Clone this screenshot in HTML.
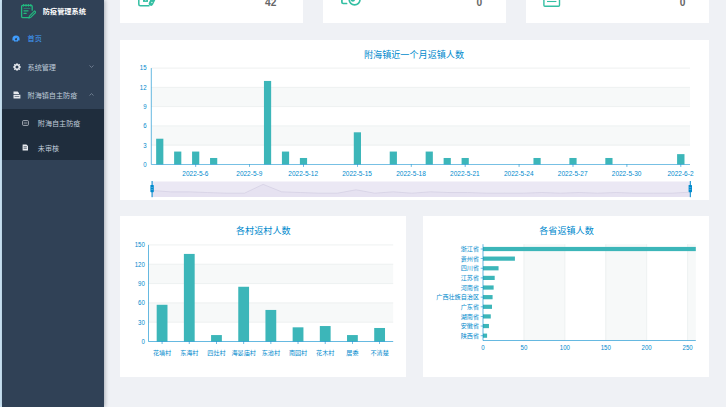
<!DOCTYPE html>
<html lang="zh-CN"><head><meta charset="utf-8"><title>防疫管理系统</title>
<style>
html,body{margin:0;padding:0;}
body{width:726px;height:407px;overflow:hidden;position:relative;background:#eff1f5;font-family:'Liberation Sans','Noto Sans CJK SC',sans-serif;}
.strip{position:absolute;left:0;top:0;width:2px;height:407px;background:#cde7f7;}
.side{position:absolute;left:2px;top:0;width:102px;height:407px;background:#304156;box-shadow:1px 0 4px rgba(0,21,41,.30);}
.logo{position:absolute;left:17px;top:3px;width:17px;height:16px;}
.ttl{position:absolute;left:40.8px;top:6.2px;font-size:7.2px;line-height:12px;font-weight:bold;color:#fff;white-space:nowrap;letter-spacing:0px;}
.mi{position:absolute;left:0;width:102px;height:28.4px;}
.mi .tx{position:absolute;left:25.6px;top:1.9px;font-size:7.1px;line-height:28.4px;color:#bfcbd9;white-space:nowrap;}
.mi svg{position:absolute;}
.sub{position:absolute;left:0;top:109px;width:102px;height:50.8px;background:#1f2d3d;}
.si{position:absolute;left:0;width:102px;height:25px;}
.si .tx{position:absolute;left:35.8px;top:2.85px;font-size:7.1px;line-height:25px;color:#bfcbd9;white-space:nowrap;}
.card{position:absolute;background:#fff;}
.num{position:absolute;font-weight:bold;font-size:10.2px;line-height:12px;color:#666;}
svg text{font-family:'Liberation Sans','Noto Sans CJK SC',sans-serif;}
.al{font-size:6.1px;fill:#008acd;}
.n{font-size:7px;}
.r{text-anchor:end;}
.m{text-anchor:middle;}
.tt{font-size:9.1px;fill:#008acd;text-anchor:middle;}
</style></head>
<body>
<div class="strip"></div>
<div class="side">
  <svg class="logo" viewBox="0 0 17 16" width="17" height="16">
    <g fill="none" stroke="#22b97f" stroke-width="1.3" stroke-linecap="round" stroke-linejoin="round">
      <path d="M10.3,14.6 H3.6 Q2.6,14.6 2.6,13.6 V3.4 Q2.6,2.4 3.6,2.4 H12.2 Q13.2,2.4 13.2,3.4 V7.2"/>
      <path d="M4.6,1.4 V3.2 M7,1.4 V3.2 M9.4,1.4 V3.2 M11.8,1.4 V3.2" stroke-width="1"/>
      <path d="M5,5.4 H11" stroke-width="1" opacity="0.55"/>
      <path d="M5,7.8 H9" />
      <path d="M5,10.3 H7.2" />
      <path d="M15.6,7.9 L10.4,13.1 L9.8,15 L11.7,14.4 L16.9,9.2 Z" stroke-width="1.1"/>
    </g>
  </svg>
  <div class="ttl">防疫管理系统</div>
  <div class="mi" style="top:23.6px">
    <svg style="left:10.4px;top:11.1px" width="8" height="7" viewBox="0 0 8 7">
      <g fill="#409eff">
        <path d="M4,0.6 A3.6,3.6 0 0 0 0.4,4.2 V5.4 H2 V6.6 H6 V5.4 H7.6 V4.2 A3.6,3.6 0 0 0 4,0.6 Z"/>
      </g>
      <g fill="#304156"><circle cx="4" cy="4.3" r="1.1"/><path d="M3.6,4.2 L5.6,1.8 L4.5,4.6 Z"/></g>
    </svg>
    <div class="tx" style="color:#409eff;top:1.4px">首页</div>
  </div>
  <div class="mi" style="top:52px">
    <svg style="left:10.6px;top:10.6px" width="8" height="8" viewBox="0 0 8 8">
      <path fill="#e6e9ee" fill-rule="evenodd" d="M3,0.4 H5 L5.3,1.5 L6.4,0.9 L7.1,1.6 L6.5,2.7 L7.6,3 V5 L6.5,5.3 L7.1,6.4 L6.4,7.1 L5.3,6.5 L5,7.6 H3 L2.7,6.5 L1.6,7.1 L0.9,6.4 L1.5,5.3 L0.4,5 V3 L1.5,2.7 L0.9,1.6 L1.6,0.9 L2.7,1.5 Z M4,2.5 A1.5,1.5 0 1 0 4,5.5 A1.5,1.5 0 1 0 4,2.5 Z"/>
    </svg>
    <div class="tx">系统管理</div>
    <svg style="left:86.6px;top:12.8px" width="5" height="3" viewBox="0 0 5 3"><path d="M0.5,0.5 L2.5,2.4 L4.5,0.5" fill="none" stroke="#8795a8" stroke-width="0.7"/></svg>
  </div>
  <div class="mi" style="top:80.4px">
    <svg style="left:10.6px;top:10.8px" width="8" height="8" viewBox="0 0 8 8">
      <path fill="#e6e9ee" d="M0.5,0.5 H4.6 L6,1.9 V3 H0.5 Z M0.5,3.8 H7.4 V7.4 H0.5 Z"/>
      <path fill="#304156" d="M1.6,5 H6.3 V5.6 H1.6 Z"/>
    </svg>
    <div class="tx">附海镇自主防疫</div>
    <svg style="left:86.6px;top:12.6px" width="5" height="3" viewBox="0 0 5 3"><path d="M0.5,2.5 L2.5,0.6 L4.5,2.5" fill="none" stroke="#8795a8" stroke-width="0.7"/></svg>
  </div>
  <div class="sub">
    <div class="si" style="top:0">
      <svg style="position:absolute;left:20.4px;top:10.5px" width="7" height="6" viewBox="0 0 7 6">
        <rect x="0.6" y="0.6" width="5.8" height="4.8" rx="0.8" fill="none" stroke="#c6ccd4" stroke-width="0.8"/>
        <path d="M1.8,3 H5.2" stroke="#c6ccd4" stroke-width="0.7"/>
      </svg>
      <div class="tx">附海自主防疫</div>
    </div>
    <div class="si" style="top:25px">
      <svg style="position:absolute;left:20.2px;top:9.8px" width="7" height="7" viewBox="0 0 7 7">
        <path fill="#e6e9ee" d="M0.6,0.4 H4.4 L6,2 V6.6 H0.6 Z"/>
        <path fill="#1f2d3d" d="M1.6,2.6 H4.8 V3.2 H1.6 Z M1.6,4.2 H4.8 V4.8 H1.6 Z"/>
      </svg>
      <div class="tx">未审核</div>
    </div>
  </div>
</div>

<!-- top cards (scrolled, partly visible) -->
<div class="card" style="left:120px;top:-32px;width:183px;height:55px">

  <div class="num" style="left:145px;top:28.9px">42</div>
</div>
<div class="card" style="left:323px;top:-32px;width:183px;height:55px">

  <div class="num" style="left:153.6px;top:29.1px">0</div>
</div>
<div class="card" style="left:526px;top:-32px;width:183px;height:55px">
  <svg style="position:absolute;left:16px;top:22px" width="20" height="18" viewBox="0 0 20 18">
    <rect x="1.9" y="1" width="15.6" height="15.2" rx="1" fill="none" stroke="#34bfa3" stroke-width="1.4"/>
    <path d="M5,11.5 H14.4" stroke="#34bfa3" stroke-width="1.1"/>
  </svg>
  <div class="num" style="left:153.8px;top:29.2px">0</div>
</div>

<!-- chart cards -->
<div class="card" style="left:120px;top:39.5px;width:589px;height:160.5px"></div>
<div class="card" style="left:120px;top:216px;width:286px;height:161px"></div>
<div class="card" style="left:423px;top:216px;width:286px;height:161px"></div>

<svg style="position:absolute;left:0;top:0" width="726" height="407" viewBox="0 0 726 407">
<rect x="151.3" y="125.88" width="538.7" height="19.26" fill="#f7f9f9"/>
<rect x="151.3" y="87.36" width="538.7" height="19.26" fill="#f7f9f9"/>
<line x1="151.3" x2="690" y1="145.14" y2="145.14" stroke="#eaeded" stroke-width="0.8"/>
<line x1="151.3" x2="690" y1="125.88" y2="125.88" stroke="#eaeded" stroke-width="0.8"/>
<line x1="151.3" x2="690" y1="106.62" y2="106.62" stroke="#eaeded" stroke-width="0.8"/>
<line x1="151.3" x2="690" y1="87.36" y2="87.36" stroke="#eaeded" stroke-width="0.8"/>
<line x1="151.3" x2="690" y1="68.1" y2="68.1" stroke="#eaeded" stroke-width="0.8"/>
<rect x="156.15" y="138.72" width="7.2" height="25.68" fill="#3cb6b9"/>
<rect x="174.12" y="151.56" width="7.2" height="12.84" fill="#3cb6b9"/>
<rect x="192.08" y="151.56" width="7.2" height="12.84" fill="#3cb6b9"/>
<rect x="210.05" y="157.98" width="7.2" height="6.42" fill="#3cb6b9"/>
<rect x="263.95" y="80.94" width="7.2" height="83.46" fill="#3cb6b9"/>
<rect x="281.92" y="151.56" width="7.2" height="12.84" fill="#3cb6b9"/>
<rect x="299.89" y="157.98" width="7.2" height="6.42" fill="#3cb6b9"/>
<rect x="353.79" y="132.3" width="7.2" height="32.1" fill="#3cb6b9"/>
<rect x="389.72" y="151.56" width="7.2" height="12.84" fill="#3cb6b9"/>
<rect x="425.65" y="151.56" width="7.2" height="12.84" fill="#3cb6b9"/>
<rect x="443.62" y="157.98" width="7.2" height="6.42" fill="#3cb6b9"/>
<rect x="461.59" y="157.98" width="7.2" height="6.42" fill="#3cb6b9"/>
<rect x="533.46" y="157.98" width="7.2" height="6.42" fill="#3cb6b9"/>
<rect x="569.39" y="157.98" width="7.2" height="6.42" fill="#3cb6b9"/>
<rect x="605.32" y="157.98" width="7.2" height="6.42" fill="#3cb6b9"/>
<rect x="677.09" y="154.13" width="7.4" height="10.27" fill="#3cb6b9"/>
<line x1="151.3" x2="151.3" y1="68.1" y2="164.4" stroke="#008acd" stroke-width="0.8" opacity="0.75"/>
<line x1="151.3" x2="690" y1="164.4" y2="164.4" stroke="#008acd" stroke-width="0.8" opacity="0.75"/>
<text x="168.51" y="166.8" class="al r n" transform="scale(0.87,1)">0</text>
<text x="168.51" y="147.54" class="al r n" transform="scale(0.87,1)">3</text>
<text x="168.51" y="128.28" class="al r n" transform="scale(0.87,1)">6</text>
<text x="168.51" y="109.02" class="al r n" transform="scale(0.87,1)">9</text>
<text x="168.51" y="89.76" class="al r n" transform="scale(0.87,1)">12</text>
<text x="168.51" y="70.5" class="al r n" transform="scale(0.87,1)">15</text>
<line x1="195.68" x2="195.68" y1="164.4" y2="166.9" stroke="#008acd" stroke-width="0.7" opacity="0.85"/>
<text x="210.09" y="176.1" class="al m n" transform="scale(0.93,1)">2022-5-6</text>
<line x1="249.58" x2="249.58" y1="164.4" y2="166.9" stroke="#008acd" stroke-width="0.7" opacity="0.85"/>
<text x="268.05" y="176.1" class="al m n" transform="scale(0.93,1)">2022-5-9</text>
<line x1="303.49" x2="303.49" y1="164.4" y2="166.9" stroke="#008acd" stroke-width="0.7" opacity="0.85"/>
<text x="326.01" y="176.1" class="al m n" transform="scale(0.93,1)">2022-5-12</text>
<line x1="357.39" x2="357.39" y1="164.4" y2="166.9" stroke="#008acd" stroke-width="0.7" opacity="0.85"/>
<text x="383.96" y="176.1" class="al m n" transform="scale(0.93,1)">2022-5-15</text>
<line x1="411.29" x2="411.29" y1="164.4" y2="166.9" stroke="#008acd" stroke-width="0.7" opacity="0.85"/>
<text x="441.92" y="176.1" class="al m n" transform="scale(0.93,1)">2022-5-18</text>
<line x1="465.19" x2="465.19" y1="164.4" y2="166.9" stroke="#008acd" stroke-width="0.7" opacity="0.85"/>
<text x="499.88" y="176.1" class="al m n" transform="scale(0.93,1)">2022-5-21</text>
<line x1="519.09" x2="519.09" y1="164.4" y2="166.9" stroke="#008acd" stroke-width="0.7" opacity="0.85"/>
<text x="557.84" y="176.1" class="al m n" transform="scale(0.93,1)">2022-5-24</text>
<line x1="572.99" x2="572.99" y1="164.4" y2="166.9" stroke="#008acd" stroke-width="0.7" opacity="0.85"/>
<text x="615.8" y="176.1" class="al m n" transform="scale(0.93,1)">2022-5-27</text>
<line x1="626.89" x2="626.89" y1="164.4" y2="166.9" stroke="#008acd" stroke-width="0.7" opacity="0.85"/>
<text x="673.75" y="176.1" class="al m n" transform="scale(0.93,1)">2022-5-30</text>
<line x1="680.79" x2="680.79" y1="164.4" y2="166.9" stroke="#008acd" stroke-width="0.7" opacity="0.85"/>
<text x="731.71" y="176.1" class="al m n" transform="scale(0.93,1)">2022-6-2</text>
<rect x="151.6" y="181.5" width="539" height="15.4" fill="#ebe8f4"/>
<path d="M151.6,190.48 L170.19,191.84 L188.77,191.84 L207.36,192.52 L225.94,193.2 L244.53,193.2 L263.12,184.36 L281.7,191.84 L300.29,192.52 L318.88,193.2 L337.46,193.2 L356.05,189.8 L374.63,193.2 L393.22,191.84 L411.81,193.2 L430.39,191.84 L448.98,192.52 L467.57,192.52 L486.15,193.2 L504.74,193.2 L523.32,193.2 L541.91,192.52 L560.5,193.2 L579.08,192.52 L597.67,193.2 L616.26,192.52 L634.84,193.2 L653.43,193.2 L672.01,193.2 L690.6,192.11 L690.6,196.9 L151.6,196.9 Z" fill="#e6e2f1" stroke="none"/>
<path d="M151.6,190.48 L170.19,191.84 L188.77,191.84 L207.36,192.52 L225.94,193.2 L244.53,193.2 L263.12,184.36 L281.7,191.84 L300.29,192.52 L318.88,193.2 L337.46,193.2 L356.05,189.8 L374.63,193.2 L393.22,191.84 L411.81,193.2 L430.39,191.84 L448.98,192.52 L467.57,192.52 L486.15,193.2 L504.74,193.2 L523.32,193.2 L541.91,192.52 L560.5,193.2 L579.08,192.52 L597.67,193.2 L616.26,192.52 L634.84,193.2 L653.43,193.2 L672.01,193.2 L690.6,192.11" fill="none" stroke="#d3cee3" stroke-width="0.7"/>
<line x1="152.1" x2="152.1" y1="181" y2="197.2" stroke="#008acd" stroke-width="1"/>
<rect x="150.4" y="185" width="3.4" height="7.2" rx="0.6" fill="#008acd"/>
<line x1="151.1" x2="153.1" y1="187.6" y2="187.6" stroke="#fff" stroke-width="0.4" opacity="0.7"/>
<line x1="151.1" x2="153.1" y1="189.6" y2="189.6" stroke="#fff" stroke-width="0.4" opacity="0.7"/>
<line x1="690.3" x2="690.3" y1="181" y2="197.2" stroke="#008acd" stroke-width="1"/>
<rect x="688.6" y="185" width="3.4" height="7.2" rx="0.6" fill="#008acd"/>
<line x1="689.3" x2="691.3" y1="187.6" y2="187.6" stroke="#fff" stroke-width="0.4" opacity="0.7"/>
<line x1="689.3" x2="691.3" y1="189.6" y2="189.6" stroke="#fff" stroke-width="0.4" opacity="0.7"/>
<text x="414" y="58.1" class="tt">附海镇近一个月返镇人数</text>
<rect x="148.5" y="302.86" width="244.7" height="19.32" fill="#f7f9f9"/>
<rect x="148.5" y="264.22" width="244.7" height="19.32" fill="#f7f9f9"/>
<line x1="148.5" x2="393.2" y1="322.18" y2="322.18" stroke="#eaeded" stroke-width="0.8"/>
<line x1="148.5" x2="393.2" y1="302.86" y2="302.86" stroke="#eaeded" stroke-width="0.8"/>
<line x1="148.5" x2="393.2" y1="283.54" y2="283.54" stroke="#eaeded" stroke-width="0.8"/>
<line x1="148.5" x2="393.2" y1="264.22" y2="264.22" stroke="#eaeded" stroke-width="0.8"/>
<line x1="148.5" x2="393.2" y1="244.9" y2="244.9" stroke="#eaeded" stroke-width="0.8"/>
<rect x="156.69" y="304.79" width="10.8" height="36.71" fill="#3cb6b9"/>
<line x1="162.09" x2="162.09" y1="341.5" y2="344" stroke="#008acd" stroke-width="0.7" opacity="0.85"/>
<text x="162.09" y="355" class="al m">花墙村</text>
<rect x="183.88" y="253.92" width="10.8" height="87.58" fill="#3cb6b9"/>
<line x1="189.28" x2="189.28" y1="341.5" y2="344" stroke="#008acd" stroke-width="0.7" opacity="0.85"/>
<text x="189.28" y="355" class="al m">东海村</text>
<rect x="211.07" y="335.06" width="10.8" height="6.44" fill="#3cb6b9"/>
<line x1="216.47" x2="216.47" y1="341.5" y2="344" stroke="#008acd" stroke-width="0.7" opacity="0.85"/>
<text x="216.47" y="355" class="al m">四灶村</text>
<rect x="238.26" y="286.76" width="10.8" height="54.74" fill="#3cb6b9"/>
<line x1="243.66" x2="243.66" y1="341.5" y2="344" stroke="#008acd" stroke-width="0.7" opacity="0.85"/>
<text x="243.66" y="355" class="al m">海晏庙村</text>
<rect x="265.45" y="309.94" width="10.8" height="31.56" fill="#3cb6b9"/>
<line x1="270.85" x2="270.85" y1="341.5" y2="344" stroke="#008acd" stroke-width="0.7" opacity="0.85"/>
<text x="270.85" y="355" class="al m">东池村</text>
<rect x="292.64" y="327.33" width="10.8" height="14.17" fill="#3cb6b9"/>
<line x1="298.04" x2="298.04" y1="341.5" y2="344" stroke="#008acd" stroke-width="0.7" opacity="0.85"/>
<text x="298.04" y="355" class="al m">南园村</text>
<rect x="319.83" y="326.04" width="10.8" height="15.46" fill="#3cb6b9"/>
<line x1="325.23" x2="325.23" y1="341.5" y2="344" stroke="#008acd" stroke-width="0.7" opacity="0.85"/>
<text x="325.23" y="355" class="al m">花木村</text>
<rect x="347.02" y="335.06" width="10.8" height="6.44" fill="#3cb6b9"/>
<line x1="352.42" x2="352.42" y1="341.5" y2="344" stroke="#008acd" stroke-width="0.7" opacity="0.85"/>
<text x="352.42" y="355" class="al m">居委</text>
<rect x="374.21" y="327.98" width="10.8" height="13.52" fill="#3cb6b9"/>
<line x1="379.61" x2="379.61" y1="341.5" y2="344" stroke="#008acd" stroke-width="0.7" opacity="0.85"/>
<text x="379.61" y="355" class="al m">不清楚</text>
<line x1="148.5" x2="148.5" y1="244.9" y2="341.5" stroke="#008acd" stroke-width="0.8" opacity="0.75"/>
<line x1="148.5" x2="393.2" y1="341.5" y2="341.5" stroke="#008acd" stroke-width="0.8" opacity="0.75"/>
<text x="166.55" y="343.9" class="al r n" transform="scale(0.87,1)">0</text>
<text x="166.55" y="324.58" class="al r n" transform="scale(0.87,1)">30</text>
<text x="166.55" y="305.26" class="al r n" transform="scale(0.87,1)">60</text>
<text x="166.55" y="285.94" class="al r n" transform="scale(0.87,1)">90</text>
<text x="166.55" y="266.62" class="al r n" transform="scale(0.87,1)">120</text>
<text x="166.55" y="247.3" class="al r n" transform="scale(0.87,1)">150</text>
<text x="263.3" y="233.6" class="tt">各村返村人数</text>
<rect x="523.92" y="244.2" width="40.92" height="96.3" fill="#f7f9f9"/>
<rect x="605.77" y="244.2" width="40.92" height="96.3" fill="#f7f9f9"/>
<rect x="687.62" y="244.2" width="8.18" height="96.3" fill="#f7f9f9"/>
<line x1="523.92" x2="523.92" y1="244.2" y2="340.5" stroke="#eaeded" stroke-width="0.8"/>
<line x1="564.85" x2="564.85" y1="244.2" y2="340.5" stroke="#eaeded" stroke-width="0.8"/>
<line x1="605.77" x2="605.77" y1="244.2" y2="340.5" stroke="#eaeded" stroke-width="0.8"/>
<line x1="646.69" x2="646.69" y1="244.2" y2="340.5" stroke="#eaeded" stroke-width="0.8"/>
<line x1="687.62" x2="687.62" y1="244.2" y2="340.5" stroke="#eaeded" stroke-width="0.8"/>
<rect x="483" y="333.58" width="4.09" height="4.2" fill="#3cb6b9"/>
<line x1="480.7" x2="483" y1="335.69" y2="335.69" stroke="#008acd" stroke-width="0.7" opacity="0.8"/>
<text x="479" y="337.79" class="al r">陕西省</text>
<rect x="483" y="323.95" width="5.97" height="4.2" fill="#3cb6b9"/>
<line x1="480.7" x2="483" y1="326.06" y2="326.06" stroke="#008acd" stroke-width="0.7" opacity="0.8"/>
<text x="479" y="328.16" class="al r">安徽省</text>
<rect x="483" y="314.32" width="7.78" height="4.2" fill="#3cb6b9"/>
<line x1="480.7" x2="483" y1="316.43" y2="316.43" stroke="#008acd" stroke-width="0.7" opacity="0.8"/>
<text x="479" y="318.53" class="al r">湖南省</text>
<rect x="483" y="304.69" width="9" height="4.2" fill="#3cb6b9"/>
<line x1="480.7" x2="483" y1="306.8" y2="306.8" stroke="#008acd" stroke-width="0.7" opacity="0.8"/>
<text x="479" y="308.9" class="al r">广东省</text>
<rect x="483" y="295.06" width="9.58" height="4.2" fill="#3cb6b9"/>
<line x1="480.7" x2="483" y1="297.17" y2="297.17" stroke="#008acd" stroke-width="0.7" opacity="0.8"/>
<text x="479" y="299.27" class="al r">广西壮族自治区</text>
<rect x="483" y="285.43" width="10.64" height="4.2" fill="#3cb6b9"/>
<line x1="480.7" x2="483" y1="287.53" y2="287.53" stroke="#008acd" stroke-width="0.7" opacity="0.8"/>
<text x="479" y="289.63" class="al r">河南省</text>
<rect x="483" y="275.8" width="11.7" height="4.2" fill="#3cb6b9"/>
<line x1="480.7" x2="483" y1="277.9" y2="277.9" stroke="#008acd" stroke-width="0.7" opacity="0.8"/>
<text x="479" y="280" class="al r">江苏省</text>
<rect x="483" y="266.17" width="15.55" height="4.2" fill="#3cb6b9"/>
<line x1="480.7" x2="483" y1="268.27" y2="268.27" stroke="#008acd" stroke-width="0.7" opacity="0.8"/>
<text x="479" y="270.38" class="al r">四川省</text>
<rect x="483" y="256.54" width="31.92" height="4.2" fill="#3cb6b9"/>
<line x1="480.7" x2="483" y1="258.64" y2="258.64" stroke="#008acd" stroke-width="0.7" opacity="0.8"/>
<text x="479" y="260.75" class="al r">贵州省</text>
<rect x="483" y="246.91" width="212.8" height="4.2" fill="#3cb6b9"/>
<line x1="480.7" x2="483" y1="249.01" y2="249.01" stroke="#008acd" stroke-width="0.7" opacity="0.8"/>
<text x="479" y="251.11" class="al r">浙江省</text>
<line x1="483" x2="483" y1="244.2" y2="340.5" stroke="#008acd" stroke-width="0.8" opacity="0.75"/>
<line x1="483" x2="695.8" y1="340.5" y2="340.5" stroke="#008acd" stroke-width="0.8" opacity="0.75"/>
<text x="555.17" y="350.1" class="al m n" transform="scale(0.87,1)">0</text>
<text x="602.21" y="350.1" class="al m n" transform="scale(0.87,1)">50</text>
<text x="649.25" y="350.1" class="al m n" transform="scale(0.87,1)">100</text>
<text x="696.29" y="350.1" class="al m n" transform="scale(0.87,1)">150</text>
<text x="743.32" y="350.1" class="al m n" transform="scale(0.87,1)">200</text>
<text x="790.36" y="350.1" class="al m n" transform="scale(0.87,1)">250</text>
<text x="566.5" y="233.6" class="tt">各省返镇人数</text>
<path d="M149.5,5.75 H140.3 Q138.8,5.75 138.8,4.25 V-12" fill="none" stroke="#34bfa3" stroke-width="1.5"/>
<path d="M143,-3 H148 V1.9 H143 Z" fill="#34bfa3"/>
<path d="M145.2,-1 H146.2 V0.9 Q145.7,1.2 145.2,0.9 Z" fill="#fff" opacity="0.55"/>
<path d="M151,3.5 L153,-0.5" stroke="#34bfa3" stroke-width="4.6" stroke-linecap="round"/>
<circle cx="151.9" cy="2.4" r="0.75" fill="#fff" opacity="0.8"/>
<path d="M341.9,-6 V2.2 Q341.9,3.5 343.2,3.5 H346.6" fill="none" stroke="#34bfa3" stroke-width="1.7" stroke-linecap="round"/>
<circle cx="354.6" cy="-0.5" r="5.4" fill="none" stroke="#34bfa3" stroke-width="1.7"/>
<circle cx="352.8" cy="-0.6" r="2.3" fill="#34bfa3"/>
</svg>
</body></html>
